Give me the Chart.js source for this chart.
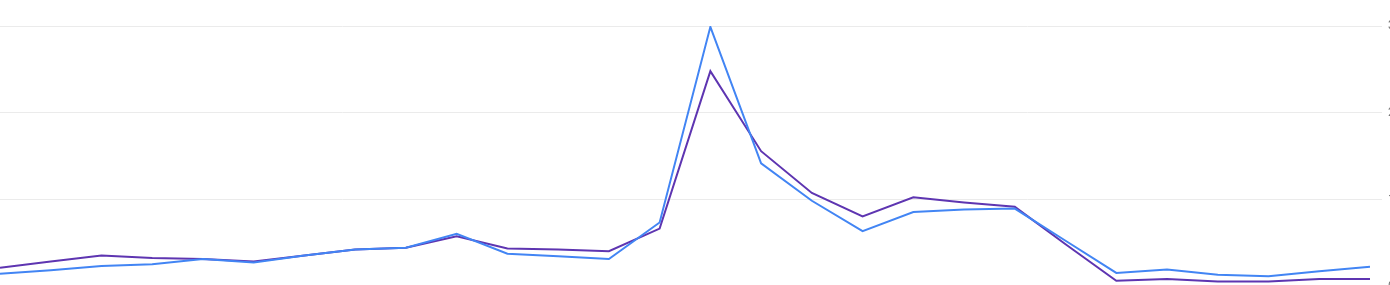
<!DOCTYPE html>
<html>
<head>
<meta charset="utf-8">
<script src="https://cdn.jsdelivr.net/npm/chart.js@4/dist/chart.umd.min.js"></script>
<style>
    html, body { margin: 0; padding: 0; overflow: hidden; background: #fff; }
    #wrap { width: 1410px; height: 300px; }
</style>
</head>
<body>
<div id="wrap"><canvas id="lineChart"></canvas></div>
<script>
// one label per point, 28 points
const labels = Array.from({ length: 28 }, (_, i) => String(i + 1));

const blueValues = [0.15, 0.19, 0.24, 0.26, 0.32, 0.28, 0.36, 0.43, 0.45, 0.61, 0.38, 0.35, 0.32, 0.74,
    2.99, 1.42, 0.99, 0.64, 0.86, 0.89, 0.90, 0.53, 0.16, 0.20, 0.14, 0.12, 0.18, 0.23];
const purpleValues = [0.22, 0.29, 0.36, 0.33, 0.32, 0.29, 0.36, 0.43, 0.45, 0.58, 0.44, 0.43, 0.41, 0.67,
    2.48, 1.56, 1.08, 0.81, 1.03, 0.97, 0.92, 0.49, 0.07, 0.09, 0.06, 0.06, 0.09, 0.09];
const yTicks = [0, 1, 2, 3];

new Chart("lineChart", {
    type: "line",
    data: {
        labels: labels,
        datasets: [{
            label: "Blue",
            data: blueValues,
            borderColor: "#4285f4",
            borderWidth: 2,
            pointRadius: 0,
            tension: 0,
            fill: false,
        }, {
            label: "Purple",
            data: purpleValues,
            borderColor: "#5e35b1",
            borderWidth: 2,
            pointRadius: 0,
            tension: 0,
            fill: false,
        }]
    },
    options: {
        responsive: true,
        maintainAspectRatio: false,
        animation: false,
        layout: {
            padding: { top: 26, bottom: 13, left: 0, right: 0 }
        },
        plugins: {
            legend: { display: false },
            tooltip: { enabled: false }
        },
        scales: {
            x: {
                display: false,
                offset: false
            },
            y: {
                position: "right",
                min: 0,
                max: 3,
                afterBuildTicks: (scale) => {
                    scale.ticks = yTicks.map(v => ({ value: v }));
                },
                afterFit: (scale) => {
                    scale.width = 40; // keep the labels mostly outside the window
                },
                border: { display: false },
                grid: {
                    color: "#ebebeb",
                    lineWidth: 1,
                    tickLength: 12
                },
                ticks: {
                    color: "#757575",
                    padding: 6,
                    font: { family: "Roboto", size: 12 }
                }
            }
        }
    }
});
</script>
</body>
</html>
